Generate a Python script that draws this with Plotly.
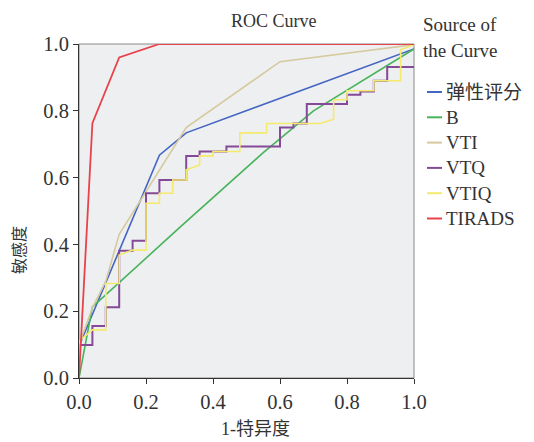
import plotly.graph_objects as go

# ---- data ----
series_names = ["弹性评分", "B", "VTI", "VTQ", "VTIQ", "TIRADS"]
series_colors = ["#4466C2", "#47B35A", "#D6C99E", "#844A98", "#F4EA6C", "#E8434B"]

fpr_elastic = [0, 0, 0.24, 0.32, 1.0]
tpr_elastic = [0, 0.095, 0.667, 0.734, 0.985]

fpr_b = [0, 0.04, 0.30, 0.55, 0.70, 1.0]
tpr_b = [0, 0.213, 0.45, 0.675, 0.80, 0.985]

fpr_vti = [0, 0, 0.04, 0.08, 0.12, 0.32, 0.60, 1.0]
tpr_vti = [0, 0.10, 0.21, 0.29, 0.43, 0.75, 0.947, 0.998]

fpr_vtq = [0, 0, 0.04, 0.08, 0.12, 0.16, 0.20, 0.24, 0.32, 0.36, 0.44, 0.60,
           0.64, 0.68, 0.80, 0.84, 0.88, 0.92, 1.0]
tpr_vtq = [0, 0.099, 0.156, 0.212, 0.381, 0.411, 0.553, 0.593, 0.665, 0.678, 0.693, 0.75,
           0.762, 0.82, 0.848, 0.858, 0.89, 0.931, 0.931]

fpr_vtiq = [0, 0, 0.04, 0.08, 0.08, 0.12, 0.12, 0.16, 0.20, 0.20, 0.24, 0.24, 0.28, 0.28,
            0.32, 0.32, 0.36, 0.36, 0.40, 0.40, 0.48, 0.48, 0.56, 0.56, 0.72, 0.76, 0.76,
            0.80, 0.80, 0.88, 0.88, 0.96, 0.96, 1.0]
tpr_vtiq = [0, 0.11, 0.144, 0.144, 0.283, 0.283, 0.368, 0.383, 0.383, 0.523, 0.523, 0.553,
            0.553, 0.593, 0.593, 0.623, 0.638, 0.665, 0.665, 0.678, 0.678, 0.734, 0.734,
            0.762, 0.762, 0.775, 0.833, 0.833, 0.86, 0.86, 0.89, 0.89, 0.983, 0.998]

fpr_tirads = [0, 0.04, 0.12, 0.24, 1.0]
tpr_tirads = [0, 0.763, 0.96, 1.0, 1.0]

tick_vals = [0, 0.2, 0.4, 0.6, 0.8, 1.0]
tick_text = ["0.0", "0.2", "0.4", "0.6", "0.8", "1.0"]

SERIF = "Liberation Serif, Noto Sans CJK SC, serif"

series = [
    (fpr_elastic, tpr_elastic, "linear", 1.6),
    (fpr_b, tpr_b, "linear", 1.6),
    (fpr_vti, tpr_vti, "linear", 1.6),
    (fpr_vtq, tpr_vtq, "hv", 2.0),
    (fpr_vtiq, tpr_vtiq, "linear", 1.6),
    (fpr_tirads, tpr_tirads, "linear", 1.8),
]

fig = go.Figure()
for (xs, ys, shape, w), name, col in zip(series, series_names, series_colors):
    fig.add_trace(go.Scatter(x=xs, y=ys, mode="lines", name=name,
                             line=dict(color=col, width=w, shape=shape),
                             showlegend=False))

# page body has an 8px margin: lay out in page pixels minus that offset
OFF = 8
W, H = 534 - OFF, 442 - OFF
L, T = 79 - OFF, 44 - OFF
pw, ph = 335, 334
R = W - L - pw
B = H - T - ph


def px_x(px):
    return (px - OFF - L) / pw


def px_y(py):
    return (H - B - (py - OFF)) / ph


axis_common = dict(range=[0, 1], tickvals=tick_vals, ticktext=tick_text,
                   showgrid=False, zeroline=False, showline=True,
                   linecolor="#333333", linewidth=1, ticks="outside",
                   ticklen=5, tickcolor="#333333",
                   tickfont=dict(family=SERIF, size=20.5, color="#333333"))

fig.update_layout(
    width=W, height=H,
    margin=dict(l=L, r=R, t=T, b=B),
    paper_bgcolor="white",
    plot_bgcolor="#EEEFF1",
    xaxis=axis_common,
    yaxis=axis_common,
    showlegend=False,
)

# light frame around plot area
fig.add_shape(type="rect", xref="paper", yref="paper", x0=0, y0=0, x1=1, y1=1,
              line=dict(color="#8A8A8A", width=1), layer="below")

annotations = [
    dict(text="ROC Curve", x=px_x(274), y=px_y(21), font=dict(size=18)),
    dict(text="1-特异度", x=px_x(255), y=px_y(429), font=dict(size=18)),
    dict(text="敏感度", x=px_x(19), y=px_y(250), textangle=-90, font=dict(size=16)),
    dict(text="Source of", x=px_x(421), y=px_y(25), xanchor="left", font=dict(size=19)),
    dict(text="the Curve", x=px_x(421), y=px_y(50), xanchor="left", font=dict(size=19)),
]
for a in annotations:
    a.setdefault("xanchor", "center")
    a.update(xref="paper", yref="paper", yanchor="middle", showarrow=False)
    a["font"] = dict(family=SERIF, color="#333333", size=a["font"]["size"])
    fig.add_annotation(**a)

# manual legend
for i, (name, col) in enumerate(zip(series_names, series_colors)):
    yc = 92 + 25.3 * i
    fig.add_shape(type="line", xref="paper", yref="paper",
                  x0=px_x(427), x1=px_x(442), y0=px_y(yc), y1=px_y(yc),
                  line=dict(color=col, width=2))
    fig.add_annotation(text=name, xref="paper", yref="paper", x=px_x(444), y=px_y(yc),
                       xanchor="left", yanchor="middle", showarrow=False,
                       font=dict(family=SERIF, size=19, color="#333333"))

fig.write_html("out.html")
